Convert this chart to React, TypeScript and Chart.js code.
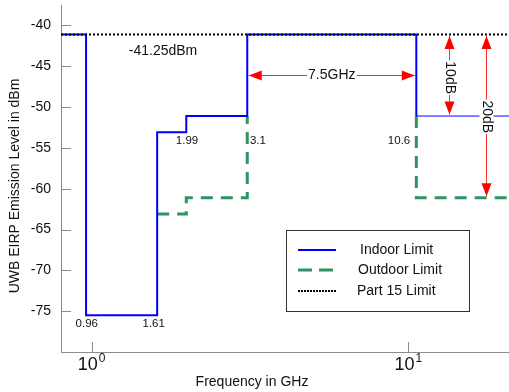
import { useEffect, useRef } from 'react';
import { Chart, registerables } from 'chart.js';

Chart.register(...registerables);

// ---- data (GHz, dBm) ----
const indoorFreq = [0.8, 0.96, 0.96, 1.61, 1.61, 1.99, 1.99, 3.1, 3.1, 10.6, 10.6, 20.8];
const indoorLevel = [-41.1, -41.1, -75.5, -75.5, -53.1, -53.1, -51.1, -51.1, -41.1, -41.1, -51.1, -51.1];
const outdoorFreq = [1.61, 1.99, 1.99, 3.1, 3.1, 3.1, 10.6, 10.6, 10.6, 20.8];
const outdoorLevel = [-63.1, -63.1, -61.1, -61.1, -51.1, -41.1, -41.1, -51.1, -61.1, -61.1];
const part15Freq = [0.8, 20.8];
const part15Level = [-41.1, -41.1];

const seriesNames = ['Indoor Limit', 'Outdoor Limit', 'Part 15 Limit'];
const yTickValues = [-75, -70, -65, -60, -55, -50, -45, -40];
const xTickValues = [1, 10];
const xTickExponents = ['0', '1'];

const edgeLabels = ['0.96', '1.61', '1.99', '3.1', '10.6'];
const edgeLabelFreq = [0.965, 1.57, 2.0, 3.35, 9.35];
const edgeLabelLevel = [-76.6, -76.6, -54.1, -54.1, -54.1];

const part15Text = '-41.25dBm';
const bandText = '7.5GHz';
const bandFrom = 3.1;
const bandTo = 10.6;
const bandLevel = -46.1;
const gapLabels = ['10dB', '20dB'];
const gapFreq = [13.45, 17.6];
const gapBottom = [-51.1, -61.1];
const gapTextLevel = [-46.4, -51.2];

const X_MIN = 0.8;
const X_MAX = 20.8;
const Y_MIN = -80;
const Y_MAX = -37.5;

const FONT = '"Liberation Sans", Arial, sans-serif';
const BLUE = '#0000ff';
const GREEN = '#2e9460';
const RED = '#ff0000';

const toPts = (xs: number[], ys: number[]) => xs.map((x, i) => ({ x, y: ys[i] }));

function arrowHead(ctx: CanvasRenderingContext2D, tx: number, ty: number, dx: number, dy: number) {
  const L = 13;
  const W = 5;
  const bx = tx - dx * L;
  const by = ty - dy * L;
  ctx.beginPath();
  ctx.moveTo(tx, ty);
  ctx.lineTo(bx - dy * W, by + dx * W);
  ctx.lineTo(bx + dy * W, by - dx * W);
  ctx.closePath();
  ctx.fill();
}

const annoPlugin = {
  id: 'anno',
  afterDatasetsDraw(chart: any) {
    const { ctx, chartArea: area } = chart;
    const xs = chart.scales.x;
    const ys = chart.scales.y;
    const px = (v: number) => xs.getPixelForValue(v);
    const py = (v: number) => ys.getPixelForValue(v);
    ctx.save();

    // inward tick marks
    ctx.strokeStyle = '#8c8c8c';
    ctx.lineWidth = 1;
    yTickValues.forEach((v) => {
      const yy = Math.round(py(v)) + 0.5;
      ctx.beginPath();
      ctx.moveTo(area.left, yy);
      ctx.lineTo(area.left + 10, yy);
      ctx.stroke();
    });
    xTickValues.forEach((v) => {
      const xx = Math.round(px(v)) + 0.5;
      ctx.beginPath();
      ctx.moveTo(xx, area.bottom);
      ctx.lineTo(xx, area.bottom - 10);
      ctx.stroke();
    });

    // x tick labels 10^n
    ctx.fillStyle = '#111';
    ctx.textBaseline = 'alphabetic';
    ctx.textAlign = 'left';
    xTickValues.forEach((v, i) => {
      ctx.font = `18px ${FONT}`;
      const w1 = ctx.measureText('10').width;
      ctx.font = `12px ${FONT}`;
      const w2 = ctx.measureText(xTickExponents[i]).width;
      const start = px(v) - (w1 + w2 + 1) / 2;
      ctx.font = `18px ${FONT}`;
      ctx.fillText('10', start, 370);
      ctx.font = `12px ${FONT}`;
      ctx.fillText(xTickExponents[i], start + w1 + 1, 362);
    });

    // axis titles
    ctx.font = `14px ${FONT}`;
    ctx.textAlign = 'center';
    ctx.textBaseline = 'middle';
    ctx.fillText('Frequency in GHz', 252, 382);
    ctx.save();
    ctx.translate(15, 186);
    ctx.rotate(-Math.PI / 2);
    ctx.fillText('UWB EIRP Emission Level in dBm', 0, 0);
    ctx.restore();

    // edge labels
    ctx.font = `11.5px ${FONT}`;
    edgeLabels.forEach((t, i) => {
      ctx.fillText(t, px(edgeLabelFreq[i]), py(edgeLabelLevel[i]));
    });

    // part 15 label
    ctx.font = `14px ${FONT}`;
    ctx.fillText(part15Text, px(1.68), py(-43.1));

    // horizontal band arrow
    ctx.strokeStyle = '#ff3030';
    ctx.fillStyle = RED;
    ctx.lineWidth = 1;
    const hy = Math.round(py(bandLevel)) + 0.5;
    const hx0 = px(bandFrom) + 1.5;
    const hx1 = px(bandTo) - 1.5;
    ctx.beginPath();
    ctx.moveTo(hx0, hy);
    ctx.lineTo(hx1, hy);
    ctx.stroke();
    arrowHead(ctx, hx0, hy, -1, 0);
    arrowHead(ctx, hx1, hy, 1, 0);
    ctx.font = `14px ${FONT}`;
    const bw = ctx.measureText(bandText).width;
    const bcx = (hx0 + hx1) / 2;
    ctx.fillStyle = '#fff';
    ctx.fillRect(bcx - bw / 2 - 1, hy - 8, bw + 2, 16);
    ctx.fillStyle = '#111';
    ctx.fillText(bandText, bcx, hy);

    // vertical dB arrows
    gapLabels.forEach((t, i) => {
      const vx = Math.round(px(gapFreq[i])) + 0.5;
      const vy0 = py(-41.1) + 1.5;
      const vy1 = py(gapBottom[i]) - 1.5;
      ctx.strokeStyle = '#ff3030';
      ctx.fillStyle = RED;
      ctx.beginPath();
      ctx.moveTo(vx, vy0);
      ctx.lineTo(vx, vy1);
      ctx.stroke();
      arrowHead(ctx, vx, vy0, 0, -1);
      arrowHead(ctx, vx, vy1, 0, 1);
      ctx.font = `14px ${FONT}`;
      const tw = ctx.measureText(t).width;
      const ty = py(gapTextLevel[i]);
      ctx.fillStyle = '#fff';
      ctx.fillRect(vx - 7, ty - tw / 2 - 1, 14, tw + 2);
      ctx.save();
      ctx.translate(vx, ty);
      ctx.rotate(Math.PI / 2);
      ctx.fillStyle = '#111';
      ctx.fillText(t, 0, 0);
      ctx.restore();
    });

    // legend box
    const lx0 = 286;
    const ly0 = 230;
    ctx.fillStyle = '#fff';
    ctx.fillRect(lx0, ly0, 183, 81);
    ctx.strokeStyle = '#333';
    ctx.lineWidth = 1;
    ctx.strokeRect(lx0 + 0.5, ly0 + 0.5, 183, 81);
    const rows = [250, 270, 291];
    const textX = [360, 358, 357];
    chart.data.datasets.forEach((ds: any, i: number) => {
      const yy = rows[i];
      ctx.strokeStyle = ds.borderColor;
      ctx.lineWidth = ds.borderWidth;
      ctx.setLineDash(i === 1 ? [14, 7] : i === 2 ? [2, 1] : []);
      ctx.beginPath();
      ctx.moveTo(298, yy);
      ctx.lineTo(336, yy);
      ctx.stroke();
      ctx.setLineDash([]);
      ctx.fillStyle = '#111';
      ctx.font = `14px ${FONT}`;
      ctx.textAlign = 'left';
      ctx.fillText(seriesNames[i], textX[i], yy);
    });

    ctx.restore();
  },
};

export default function App() {
  const ref = useRef<HTMLCanvasElement | null>(null);

  useEffect(() => {
    document.body.style.margin = '0';
    const canvas = ref.current;
    if (!canvas) return;
    Chart.defaults.font.family = FONT;
    const chart = new Chart(canvas, {
      type: 'line',
      data: {
        datasets: [
          {
            label: seriesNames[0],
            data: toPts(indoorFreq, indoorLevel),
            borderColor: BLUE,
            borderWidth: 2,
            pointRadius: 0,
            fill: false,
            order: 1,
            segment: {
              borderWidth: (c: any) => (c.p0.parsed.x >= 10.6 && c.p1.parsed.x > 10.6 ? 1 : 2),
            },
          },
          {
            label: seriesNames[1],
            data: toPts(outdoorFreq, outdoorLevel),
            borderColor: GREEN,
            borderWidth: 3,
            borderDash: [12, 8],
            pointRadius: 0,
            fill: false,
            order: 2,
            segment: {
              borderColor: (c: any) =>
                c.p0.parsed.y > -51.5 && c.p1.parsed.y > -51.5 ? 'rgba(0,0,0,0)' : GREEN,
            },
          },
          {
            label: seriesNames[2],
            data: toPts(part15Freq, part15Level),
            borderColor: '#000',
            borderWidth: 2,
            borderDash: [2, 2],
            pointRadius: 0,
            fill: false,
            order: 0,
          },
        ],
      },
      options: {
        responsive: false,
        animation: false,
        layout: { padding: { top: 5, right: 0, left: 0, bottom: 0 } },
        plugins: { legend: { display: false }, tooltip: { enabled: false } },
        scales: {
          x: {
            type: 'logarithmic',
            min: X_MIN,
            max: X_MAX,
            grid: { display: false, drawTicks: false },
            border: { display: true, color: '#8c8c8c', width: 1 },
            ticks: { display: false },
            afterBuildTicks: (s: any) => {
              s.ticks = xTickValues.map((v) => ({ value: v }));
            },
            afterFit: (s: any) => {
              s.height = 40;
              s.paddingLeft = 0;
              s.paddingRight = 0;
            },
          },
          y: {
            type: 'linear',
            min: Y_MIN,
            max: Y_MAX,
            grid: { display: false, drawTicks: false },
            border: { display: true, color: '#8c8c8c', width: 1 },
            ticks: { color: '#111', font: { size: 14, family: FONT }, padding: 10 },
            afterBuildTicks: (s: any) => {
              s.ticks = yTickValues.map((v) => ({ value: v }));
            },
            afterFit: (s: any) => {
              s.width = 61;
              s.paddingTop = 0;
              s.paddingBottom = 0;
            },
          },
        },
      },
      plugins: [annoPlugin],
    });
    return () => chart.destroy();
  }, []);

  return <canvas ref={ref} width={509} height={392} style={{ display: 'block' }} />;
}
